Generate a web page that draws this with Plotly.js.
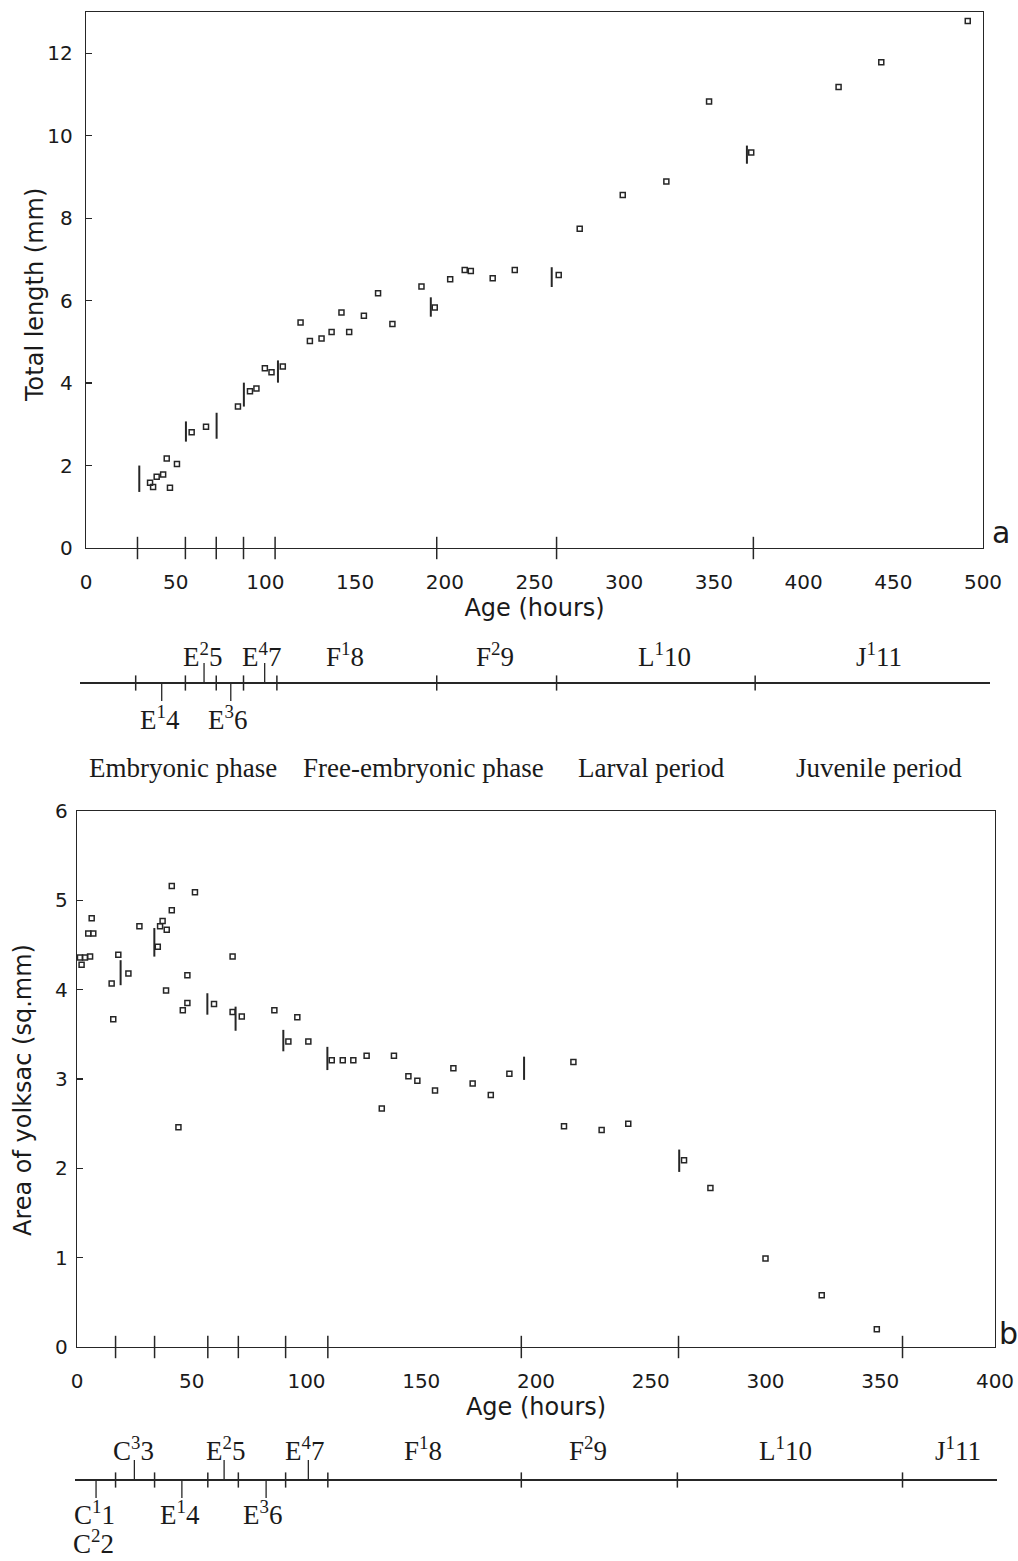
<!DOCTYPE html>
<html><head><meta charset="utf-8">
<script src="https://cdn.plot.ly/plotly-3.0.1.min.js"></script>
<style>html,body{margin:0;padding:0;background:#fff}</style>
</head><body><div id="chart" style="width:1018px;height:1561px"></div>
<script>
// ---------- Panel a: total length vs age ----------
const lengthAge = [35.7,37.4,39.4,43,45,46.8,50.7,58.9,66.9,84.7,91.4,95,99.7,103.4,109.7,119.6,124.8,131.3,136.9,142.4,146.7,154.9,162.8,170.8,187,194.4,203,211.1,214.5,226.7,239,263.5,275.2,299.2,323.5,347.3,370.8,419.5,443.3,491.5];
const lengthMm  = [1.58,1.48,1.73,1.78,2.17,1.46,2.04,2.81,2.94,3.43,3.80,3.87,4.36,4.26,4.40,5.47,5.02,5.08,5.24,5.71,5.24,5.63,6.18,5.43,6.34,5.83,6.52,6.74,6.72,6.54,6.74,6.62,7.74,8.56,8.89,10.83,9.59,11.18,11.78,12.78];
// stage-transition bars drawn on the growth curve
const lengthStageAge = [29.7,55.7,72.8,88,107,192.2,259.6,368.4];
const lengthStageLo  = [1.36,2.58,2.65,3.43,4.01,5.61,6.33,9.32];
const lengthStageHi  = [2.00,3.07,3.28,4.01,4.55,6.08,6.81,9.76];
const lengthAxisMarks = [28.7,55.4,72.6,87.8,105.4,195.5,262.3,372];
const lengthTicks = [0,50,100,150,200,250,300,350,400,450,500];
const lengthYTicks = [0,2,4,6,8,10,12];

// timeline under panel a
const tlA_bounds = [27.7,55.4,72.6,87.8,106.4,195.5,262.3,373];
const tlA_labels = ['E<sup>1</sup>4','E<sup>2</sup>5','E<sup>3</sup>6','E<sup>4</sup>7','F<sup>1</sup>8','F<sup>2</sup>9','L<sup>1</sup>10','J<sup>1</sup>11'];
const tlA_labelAge = [41.2,65.2,78.6,98,144.3,227.9,322.6,442.3];
const tlA_side = ['down','up','down','up','up','up','up','up'];
const tlA_markAge = [42.2,65.8,80.7,99.6,null,null,null,null];

const phaseNames = ['Embryonic phase','Free-embryonic phase','Larval period','Juvenile period'];
const phaseCenterAge = [54,188,315,442];

// ---------- Panel b: yolk sac area vs age ----------
const yolkAge  = [1.3,3.5,5.7,2.0,4.9,7.1,6.4,15.1,15.8,18,22.4,27.2,35.2,36.2,37.3,39.1,41.3,41.3,38.8,44.2,46.1,48.1,48.1,51.4,59.7,67.8,67.8,71.8,86,92.1,96,100.8,111,115.8,120.4,126.2,132.8,138.1,144.4,148.3,156,164,172.4,180.3,188.4,212.2,216.3,228.6,240.2,264.5,276,300,324.5,348.5];
const yolkArea = [4.36,4.36,4.37,4.28,4.63,4.63,4.80,4.07,3.67,4.39,4.18,4.71,4.48,4.71,4.77,4.67,4.89,5.16,3.99,2.46,3.77,3.85,4.16,5.09,3.84,4.37,3.75,3.70,3.77,3.42,3.69,3.42,3.21,3.21,3.21,3.26,2.67,3.26,3.03,2.98,2.87,3.12,2.95,2.82,3.06,2.47,3.19,2.43,2.50,2.09,1.78,0.99,0.58,0.20];
const yolkStageAge = [19,33.7,56.8,69.1,89.9,109.1,194.8,262.4];
const yolkStageLo  = [4.05,4.37,3.72,3.54,3.31,3.10,2.99,1.96];
const yolkStageHi  = [4.33,4.69,3.96,3.81,3.55,3.36,3.25,2.21];
const yolkAxisMarks = [16.8,33.8,57.0,70.3,90.9,109.3,193.6,262.1,359.7];
const yolkTicks = [0,50,100,150,200,250,300,350,400];
const yolkYTicks = [0,1,2,3,4,5,6];

// timeline under panel b
const tlB_bounds = [16.8,33.8,57.0,70.3,90.9,109.3,193.6,261.6,359.7];
const tlB_labels = ['C<sup>1</sup>1','C<sup>2</sup>2','C<sup>3</sup>3','E<sup>1</sup>4','E<sup>2</sup>5','E<sup>3</sup>6','E<sup>4</sup>7','F<sup>1</sup>8','F<sup>2</sup>9','L<sup>1</sup>10','J<sup>1</sup>11'];
const tlB_labelAge = [7.8,7.0,24.4,44.9,64.5,81,99.3,150.8,222.7,308.5,383.9];
const tlB_side = ['down','down2','up','down','up','down','up','up','up','up','up'];
const tlB_markAge = [8.3,null,25.0,45.7,64.1,82.4,100.8,null,null,null,null];

// ---------- helpers ----------
const INK = '#262626';
function segs(xs, lo, hi) {
  const x = [], y = [];
  xs.forEach((v, i) => {
    x.push(v, v, null);
    y.push(Array.isArray(lo) ? lo[i] : lo, Array.isArray(hi) ? hi[i] : hi, null);
  });
  return {x, y};
}
const W = 1018, H = 1561;
const px = v => v / W, py = v => (H - v) / H;

const traces = [];
// panel a
traces.push({x: lengthAge, y: lengthMm, xaxis: 'x', yaxis: 'y', type: 'scatter', mode: 'markers',
  marker: {symbol: 'square-open', size: 5, color: INK, line: {width: 1.5, color: INK}}});
let s = segs(lengthStageAge, lengthStageLo, lengthStageHi);
traces.push({x: s.x, y: s.y, xaxis: 'x', yaxis: 'y', type: 'scatter', mode: 'lines', line: {color: INK, width: 2}});
traces.push({x: lengthAxisMarks, y: lengthAxisMarks.map(() => 0), xaxis: 'x', yaxis: 'y', type: 'scatter', mode: 'markers', cliponaxis: false,
  marker: {symbol: 'line-ns', size: 16, line: {width: 1.5, color: INK}}});
// panel b
traces.push({x: yolkAge, y: yolkArea, xaxis: 'x3', yaxis: 'y3', type: 'scatter', mode: 'markers',
  marker: {symbol: 'square-open', size: 5, color: INK, line: {width: 1.5, color: INK}}});
s = segs(yolkStageAge, yolkStageLo, yolkStageHi);
traces.push({x: s.x, y: s.y, xaxis: 'x3', yaxis: 'y3', type: 'scatter', mode: 'lines', line: {color: INK, width: 2}});
traces.push({x: yolkAxisMarks, y: yolkAxisMarks.map(() => 0), xaxis: 'x3', yaxis: 'y3', type: 'scatter', mode: 'markers', cliponaxis: false,
  marker: {symbol: 'line-ns', size: 16, line: {width: 1.5, color: INK}}});

// timelines
function timeline(bounds, markAge, side, xa, ya) {
  const c = segs(bounds, -0.19, 0.19);
  traces.push({x: c.x, y: c.y, xaxis: xa, yaxis: ya, type: 'scatter', mode: 'lines', line: {color: INK, width: 1.5}});
  const mx = [], lo = [], hi = [];
  markAge.forEach((m, i) => {
    if (m === null) return;
    mx.push(m); lo.push(0);
    hi.push(side[i] === 'up' ? 0.5 : -0.45);
  });
  const m = segs(mx, lo, hi);
  traces.push({x: m.x, y: m.y, xaxis: xa, yaxis: ya, type: 'scatter', mode: 'lines', line: {color: INK, width: 1.3}});
}
timeline(tlA_bounds, tlA_markAge, tlA_side, 'x2', 'y2');
timeline(tlB_bounds, tlB_markAge, tlB_side, 'x4', 'y4');

const serif = {family: 'Liberation Serif, Times New Roman, serif', size: 27, color: '#1a1a1a'};
const sans = 'DejaVu Sans, sans-serif';
const annotations = [];
function tlLabels(labels, ages, side, xa, ya, upY, downY, down2Y) {
  labels.forEach((t, i) => {
    const yy = side[i] === 'up' ? upY : (side[i] === 'down' ? downY : down2Y);
    annotations.push({text: t, x: ages[i], y: yy, xref: xa, yref: ya, showarrow: false,
      xanchor: 'center', yanchor: 'middle', font: serif});
  });
}
tlLabels(tlA_labels, tlA_labelAge, tlA_side, 'x2', 'y2', 0.7, -0.88, -1.7);
tlLabels(tlB_labels, tlB_labelAge, tlB_side, 'x4', 'y4', 0.78, -0.82, -1.56);
phaseNames.forEach((n, i) => {
  annotations.push({text: n, x: phaseCenterAge[i], y: py(768), xref: 'x2', yref: 'paper', showarrow: false,
    xanchor: 'center', yanchor: 'middle', font: serif});
});
annotations.push({text: 'a', x: px(1001), y: py(532), xref: 'paper', yref: 'paper', showarrow: false,
  xanchor: 'center', yanchor: 'middle', font: {family: sans, size: 30, color: '#1a1a1a'}});
annotations.push({text: 'b', x: px(1008), y: py(1333), xref: 'paper', yref: 'paper', showarrow: false,
  xanchor: 'center', yanchor: 'middle', font: {family: sans, size: 30, color: '#1a1a1a'}});

const tickFont = {family: sans, size: 20, color: '#1a1a1a'};
const titleFont = {family: sans, size: 24, color: '#1a1a1a'};
// y-axis titles (placed as rotated annotations to match the scan's placement)
annotations.push({text: 'Total length (mm)', x: px(35), y: py(295), xref: 'paper', yref: 'paper', textangle: -90,
  showarrow: false, xanchor: 'center', yanchor: 'middle', font: titleFont});
annotations.push({text: 'Area of yolksac (sq.mm)', x: px(23), y: py(1090), xref: 'paper', yref: 'paper', textangle: -90,
  showarrow: false, xanchor: 'center', yanchor: 'middle', font: titleFont});

function xAx(domain, range, tv, anchor) {
  return {domain, range, anchor, tickvals: tv, ticktext: tv.map(String), ticks: '', showgrid: false, zeroline: false,
    showline: true, mirror: true, linecolor: INK, linewidth: 1.3, tickfont: tickFont, ticklabelstandoff: 16,
    title: {text: 'Age (hours)', font: titleFont, standoff: 6}, automargin: false, fixedrange: true};
}
function yAx(domain, range, tv, anchor, stand) {
  return {domain, range, anchor, tickvals: tv, ticktext: tv.map(String), ticks: 'inside', ticklen: 6, tickcolor: INK, tickwidth: 1.2,
    showgrid: false, zeroline: false, showline: true, mirror: true, linecolor: INK, linewidth: 1.3,
    tickfont: tickFont, ticklabelstandoff: stand, automargin: false, fixedrange: true};
}
function hidden(domain, range, anchor) {
  return {domain, range, anchor, visible: false, showgrid: false, zeroline: false, fixedrange: true};
}

const layout = {
  width: W, height: H, margin: {l: 0, r: 0, t: 0, b: 0}, paper_bgcolor: '#fff', plot_bgcolor: 'rgba(0,0,0,0)',
  showlegend: false, hovermode: false,
  xaxis: xAx([px(86), px(983)], [0, 500], lengthTicks, 'y'),
  yaxis: yAx([py(548), py(12)], [0, 13], lengthYTicks, 'x', 8),
  xaxis2: hidden([px(86), px(983)], [0, 500], 'y2'),
  yaxis2: hidden([py(763), py(603)], [-2, 2], 'x2'),
  xaxis3: xAx([px(77), px(995)], [0, 400], yolkTicks, 'y3'),
  yaxis3: yAx([py(1347), py(811)], [0, 6], yolkYTicks, 'x3', 4),
  xaxis4: hidden([px(77), px(995)], [0, 400], 'y4'),
  yaxis4: hidden([py(1560), py(1400)], [-2, 2], 'x4'),
  shapes: [
    {type: 'line', xref: 'paper', yref: 'y2', x0: px(80), x1: px(990), y0: 0, y1: 0, line: {color: INK, width: 2}},
    {type: 'line', xref: 'paper', yref: 'y4', x0: px(75), x1: px(997), y0: 0, y1: 0, line: {color: INK, width: 2}}
  ],
  annotations
};
Plotly.newPlot('chart', traces, layout, {staticPlot: true, displayModeBar: false});
</script></body></html>
